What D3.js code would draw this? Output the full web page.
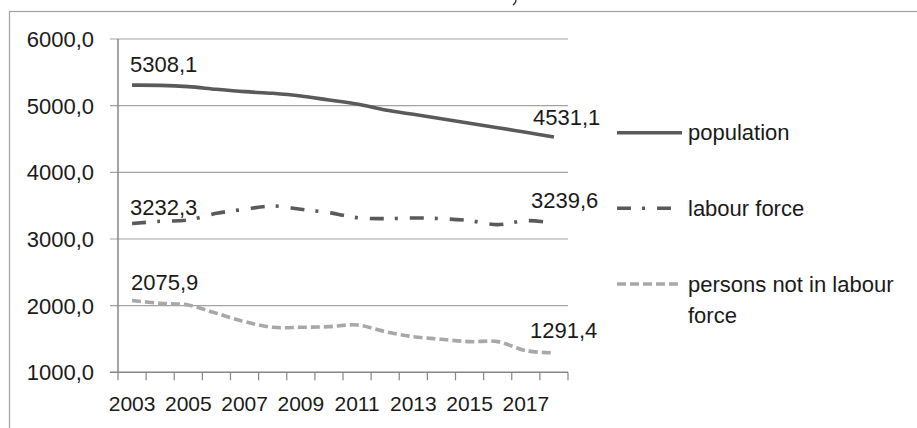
<!DOCTYPE html>
<html>
<head>
<meta charset="utf-8">
<script src="https://cdn.jsdelivr.net/npm/d3@7"></script>
<style>
  body { margin: 0; background: #fff; }
  text { font-family: "Liberation Sans", Arial, sans-serif; fill: #1a1a1a; }
</style>
</head>
<body>
<script>
/* data */
var years = ["2003","2004","2005","2006","2007","2008","2009","2010",
             "2011","2012","2013","2014","2015","2016","2017","2018"];
var yearLabels = ["2003","2005","2007","2009","2011","2013","2015","2017"];
var yTicks = [1000, 2000, 3000, 4000, 5000, 6000];

var population = [5308.1, 5305, 5285, 5245, 5210, 5185, 5145, 5085,
                  5025, 4935, 4870, 4805, 4735, 4670, 4600, 4531.1];
var labourForce = [3232.3, 3265, 3285, 3385, 3445, 3495, 3445, 3395,
                   3320, 3305, 3315, 3305, 3275, 3215, 3275, 3239.6];
var notInLabour = [2075.9, 2035, 2010, 1885, 1760, 1675, 1675, 1685,
                   1710, 1610, 1535, 1495, 1460, 1460, 1325, 1291.4];

var seriesNames = ["population", "labour force", "persons not in labour force"];

var W = 917, H = 428;
var svg = d3.select("body").append("svg")
            .attr("width", W)
            .attr("height", H);

/* outer frame, right and bottom edges fall outside the picture */
svg.append("rect")
   .attr("x", 9.5).attr("y", 11.5)
   .attr("width", 1000).attr("height", 1000)
   .attr("fill", "none")
   .attr("stroke", "#a0a0a0")
   .attr("stroke-width", 1.2);

/* tail of something cut off above the frame */
svg.append("path")
   .attr("d", "M516,0 Q516,3 513,5")
   .attr("fill", "none")
   .attr("stroke", "#333")
   .attr("stroke-width", 1.3);

var x = d3.scaleBand().domain(years).range([118, 568]).padding(0);
var y = d3.scaleLinear().domain([1000, 6000]).range([372.3, 39]);
var cx = function(i) { return x(years[i]) + x.bandwidth() / 2; };

/* grid lines + y labels */
svg.selectAll(".grid")
   .data(yTicks.slice(1))
   .enter()
   .append("line")
   .attr("x1", 110).attr("x2", 568)
   .attr("y1", function(d) { return y(d); })
   .attr("y2", function(d) { return y(d); })
   .attr("stroke", "#a3a3a3")
   .attr("stroke-width", 1.2);

svg.selectAll(".ylab")
   .data(yTicks)
   .enter()
   .append("text")
   .attr("x", 94)
   .attr("y", function(d) { return y(d) + 8; })
   .attr("text-anchor", "end")
   .attr("font-size", 22)
   .text(function(d) { return d3.format(".1f")(d).replace(".", ","); });

/* axes */
svg.append("line")
   .attr("x1", 118).attr("x2", 118)
   .attr("y1", y(6000)).attr("y2", y(1000))
   .attr("stroke", "#868686").attr("stroke-width", 1.5);

svg.append("line")
   .attr("x1", 110).attr("x2", 568)
   .attr("y1", y(1000)).attr("y2", y(1000))
   .attr("stroke", "#868686").attr("stroke-width", 1.5);

var bounds = years.map(function(d) { return x(d); }).concat([x.range()[1]]);
svg.selectAll(".xtick")
   .data(bounds)
   .enter()
   .append("line")
   .attr("x1", function(d) { return d; })
   .attr("x2", function(d) { return d; })
   .attr("y1", y(1000)).attr("y2", y(1000) + 8)
   .attr("stroke", "#868686").attr("stroke-width", 1.2);

svg.selectAll(".xlab")
   .data(yearLabels)
   .enter()
   .append("text")
   .attr("x", function(d) { return x(d) + x.bandwidth() / 2; })
   .attr("y", 411)
   .attr("text-anchor", "middle")
   .attr("font-size", 21)
   .text(function(d) { return d; });

/* lines */
var line = d3.line()
             .x(function(d, i) { return cx(i); })
             .y(function(d) { return y(d); })
             .curve(d3.curveCardinal.tension(0));

var styles = [
  { data: population,  color: "#5a5a5a", width: 3.6, dash: null },
  { data: labourForce, color: "#5a5a5a", width: 3.6, dash: "14,11,3,12" },
  { data: notInLabour, color: "#a8a8a8", width: 3.6, dash: "9,4" }
];

svg.selectAll(".series")
   .data(styles)
   .enter()
   .append("path")
   .attr("d", function(s) { return line(s.data); })
   .attr("fill", "none")
   .attr("stroke", function(s) { return s.color; })
   .attr("stroke-width", function(s) { return s.width; })
   .attr("stroke-dasharray", function(s) { return s.dash; });

/* first / last value labels, nudged like in the original */
var fmt = function(v) { return d3.format(".1f")(v).replace(".", ","); };
var labels = [
  { v: population[0],   i: 0,  dx: -2, dy: -13 },
  { v: population[15],  i: 15, dx: -21, dy: -12 },
  { v: labourForce[0],  i: 0,  dx: -2, dy: -8 },
  { v: labourForce[15], i: 15, dx: -23, dy: -15 },
  { v: notInLabour[0],  i: 0,  dx: -1, dy: -11 },
  { v: notInLabour[15], i: 15, dx: -24, dy: -15 }
];
svg.selectAll(".dlab")
   .data(labels)
   .enter()
   .append("text")
   .attr("x", function(d) { return cx(d.i) + d.dx; })
   .attr("y", function(d) { return y(d.v) + d.dy; })
   .attr("font-size", 22)
   .text(function(d) { return fmt(d.v); });

/* legend */
var legY = [132.7, 208.3, 284];
var leg = svg.selectAll(".leg")
             .data(styles)
             .enter()
             .append("g");

leg.append("line")
   .attr("x1", 617).attr("x2", 682)
   .attr("y1", function(d, i) { return legY[i]; })
   .attr("y2", function(d, i) { return legY[i]; })
   .attr("stroke", function(s) { return s.color; })
   .attr("stroke-width", function(s) { return s.width; })
   .attr("stroke-dasharray", function(s) { return s.dash; });

leg.append("text")
   .attr("x", 688)
   .attr("y", function(d, i) { return legY[i] + 7.5; })
   .attr("font-size", 22)
   .each(function(d, i) {
     var t = d3.select(this);
     if (i < 2) {
       t.text(seriesNames[i]);
     } else {
       t.append("tspan").attr("x", 688).text("persons not in labour");
       t.append("tspan").attr("x", 688).attr("dy", 31).text("force");
     }
   });
</script>
</body>
</html>
